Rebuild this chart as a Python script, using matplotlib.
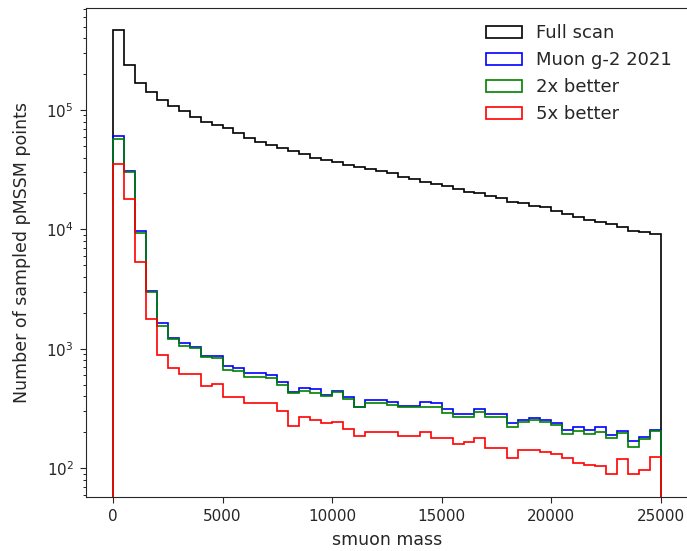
import numpy as np
import matplotlib
matplotlib.use('Agg')
import matplotlib.pyplot as plt

# smuon mass binning, 500 GeV wide bins
mass_edges = np.arange(0, 25001, 500)

full_scan = [468000, 238000, 169000, 142000, 121000, 108000, 98700, 87900, 79800, 74800,
             70700, 63800, 58300, 53900, 50900, 48000, 45400, 42800, 39600, 38100,
             36700, 34600, 33300, 32100, 30800, 29500, 27600, 26400, 25100, 24000,
             23200, 21700, 20700, 20000, 19100, 18200, 17100, 16500, 15800, 15300,
             14300, 13400, 12800, 12000, 11500, 11100, 10400, 9750, 9460, 9150]

gm2_2021 = [60500, 31000, 9700, 3050, 1640, 1240, 1130, 1040, 875, 875,
            718, 687, 630, 625, 603, 524, 432, 472, 457, 410,
            440, 392, 327, 372, 372, 356, 334, 334, 356, 349,
            311, 284, 284, 311, 284, 284, 241, 253, 262, 253,
            238, 209, 220, 209, 220, 190, 206, 169, 184, 208]

better_2x = [57700, 30400, 9280, 2970, 1550, 1210, 1050, 1020, 859, 832,
             664, 651, 584, 577, 566, 498, 424, 446, 429, 402,
             432, 384, 324, 349, 349, 338, 324, 324, 324, 324,
             292, 267, 267, 297, 267, 267, 223, 245, 253, 245,
             230, 192, 205, 193, 200, 181, 198, 151, 175, 206]

better_5x = [35100, 18000, 5370, 1770, 887, 695, 615, 615, 491, 507,
             397, 397, 350, 350, 350, 301, 227, 270, 253, 238,
             245, 212, 186, 201, 201, 201, 186, 186, 201, 178,
             178, 161, 167, 178, 147, 147, 122, 142, 142, 137,
             131, 121, 110, 106, 105, 89, 119, 89, 97, 125]

series = [(full_scan, 'black', 'Full scan'),
          (gm2_2021, 'blue', 'Muon g-2 2021'),
          (better_2x, 'green', '2x better'),
          (better_5x, 'red', '5x better')]

centers = 0.5 * (mass_edges[:-1] + mass_edges[1:])

fig = plt.figure(figsize=(6.87, 5.51), dpi=100)
ax = fig.add_axes([0.1246, 0.098, 0.877, 0.8875])

for counts, col, lab in series:
    ax.hist(centers, bins=mass_edges, weights=counts, histtype='step',
            color=col, label=lab, log=True, linewidth=1.2)

ax.set_yscale('log')
ax.set_ylim(57.5, 7.15e5)
ax.set_xlim(-1250, 26250)
ax.set_xticks([0, 5000, 10000, 15000, 20000, 25000])
ax.tick_params(labelsize=11, colors='#262626', length=4, pad=4.5)
ax.tick_params(which='minor', length=2.3)
for sp in ax.spines.values():
    sp.set_color('#262626')
ax.set_xlabel('smuon mass', fontsize=12.5, color='#262626', labelpad=5)
ax.set_ylabel('Number of sampled pMSSM points', fontsize=12.5, color='#262626', labelpad=11)
leg = ax.legend(loc='upper right', frameon=False, fontsize=13)
for t in leg.get_texts():
    t.set_color('#262626')

fig.savefig('out.png', dpi=100)
plt.close()
